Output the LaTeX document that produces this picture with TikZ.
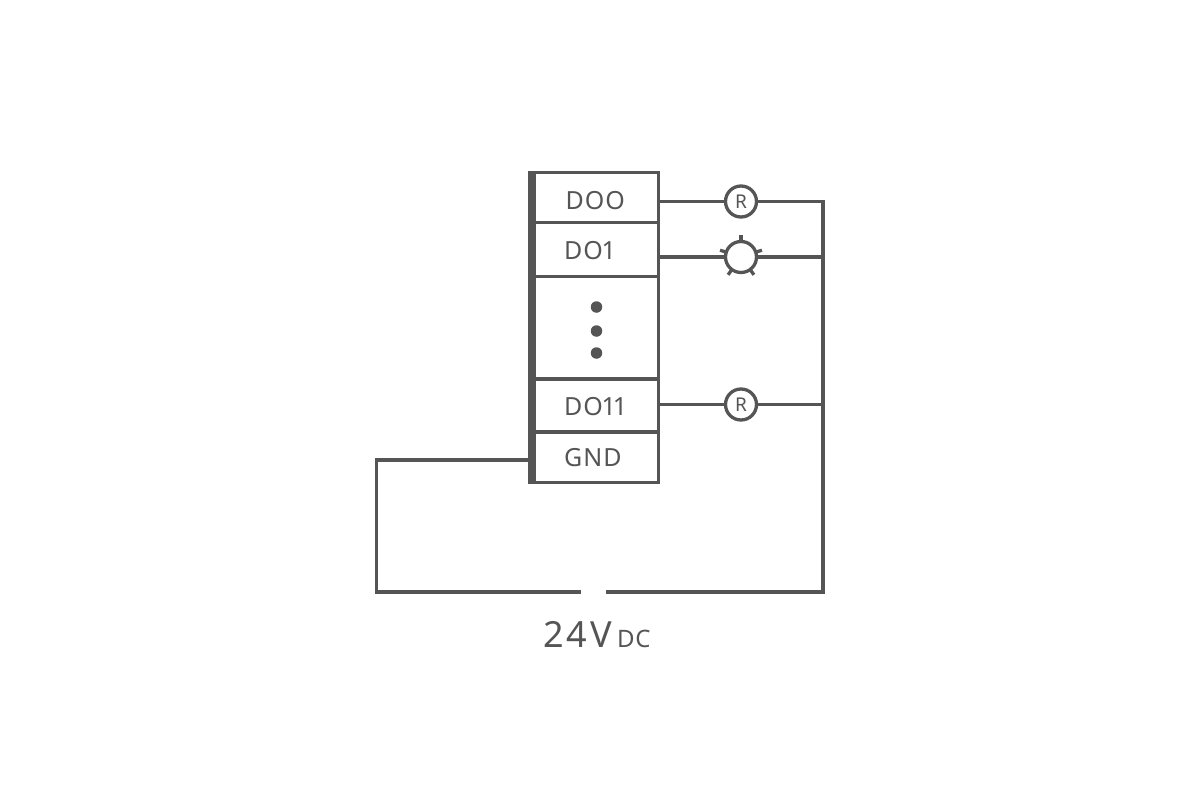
\documentclass[tikz,border=0pt]{standalone}
\usepackage{fontspec}
\setmainfont{Noto Sans}
\newfontfamily\lblfont[LetterSpace=4]{Noto Sans}
\newfontfamily\voltfont[LetterSpace=8]{Noto Sans}
\newfontfamily\dcfont[LetterSpace=3]{Noto Sans}
\definecolor{ink}{HTML}{555555}
\tikzset{
  wire/.style={draw=ink,line width=3.3pt},
  cell/.style={draw=ink,line width=3.3pt,rectangle,minimum width=124.2pt,outer sep=0pt,inner sep=0pt,anchor=north west},
  lbl/.style={text=ink,font=\lblfont\fontsize{25pt}{25pt}\selectfont,anchor=base west,inner sep=0pt,outer sep=0pt},
  coil/.style={draw=ink,line width=3.3pt,fill=white,circle,minimum size=31pt,inner sep=0pt,outer sep=0pt},
  dotmark/.style={fill=ink,circle,minimum size=11.5pt,inner sep=0pt,outer sep=0pt},
  rlbl/.style={text=ink,font=\fontsize{19pt}{19pt}\selectfont,inner sep=0pt}
}
\begin{document}
\begin{tikzpicture}[x=1pt,y=-1pt]
\useasboundingbox (0,0) rectangle (1200,800);
\fill[white] (0,0) rectangle (1200,800);
% terminal cells
\node[cell,minimum height=50.5pt] (c0) at (534.5,172.25) {};
\node[cell,minimum height=54pt] (c1) at (534.5,222.75) {};
\node[cell,minimum height=102.25pt] (c2) at (534.5,276.75) {};
\node[cell,minimum height=53pt] (c3) at (534.5,379) {};
\node[cell,minimum height=50.25pt] (c4) at (534.5,432) {};
\fill[ink] (528,170.6) rectangle (536,483.9);
% labels
\node[lbl] (t0) at (565.5,209) {DOO};
\node[lbl] (t1) at (564.2,259) {DO\kern-1.5pt 1};
\node[lbl] (t3) at (564.2,415.6) {DO\kern-1.5pt 1\kern-3pt 1};
\node[lbl] (t4) at (564.2,466) {GND};
\node[dotmark] (d1) at (596.5,307) {};
\node[dotmark] (d2) at (596.5,331) {};
\node[dotmark] (d3) at (596.5,353) {};
% loads
\node[coil] (r0) at (741,201.5) {};
\node[coil] (l1) at (741,257) {};
\node[coil] (r3) at (741,404.5) {};
\node[rlbl] (rt0) at (r0) {R};
\node[rlbl] (rt3) at (r3) {R};
\foreach \a in {90,162,234,306,18} \draw[wire] (l1.\a) -- ++(\a:6.5pt);
% bus
\coordinate (b0) at (823,201.5);
\coordinate (b1) at (823,257);
\coordinate (b3) at (823,404.5);
\coordinate (br) at (823,592);
\coordinate (gr) at (606,592);
\coordinate (gl) at (581,592);
\coordinate (bl) at (376.8,592);
\coordinate (gt) at (376.8,460);
\coordinate (gs) at (528,460);
\draw[wire] (c0.east |- r0) -- (r0.west);
\draw[wire] (r0.east) -- (b0) -- (b1) -- (b3) -- (br) -- (gr);
\draw[wire] (c1.east |- l1) -- (l1.west);
\draw[wire] (l1.east) -- (b1);
\draw[wire] (c3.east |- r3) -- (r3.west);
\draw[wire] (r3.east) -- (b3);
\draw[wire] (gs) -- (gt) -- (bl) -- (gl);
% supply label
\node[text=ink,font=\voltfont\fontsize{36pt}{36pt}\selectfont,anchor=base west,inner sep=0pt] (v) at (543,647) {24V};
\node[text=ink,font=\dcfont\fontsize{24pt}{24pt}\selectfont,anchor=base west,inner sep=0pt] (dc) at (617,647) {DC};
\end{tikzpicture}
\end{document}
